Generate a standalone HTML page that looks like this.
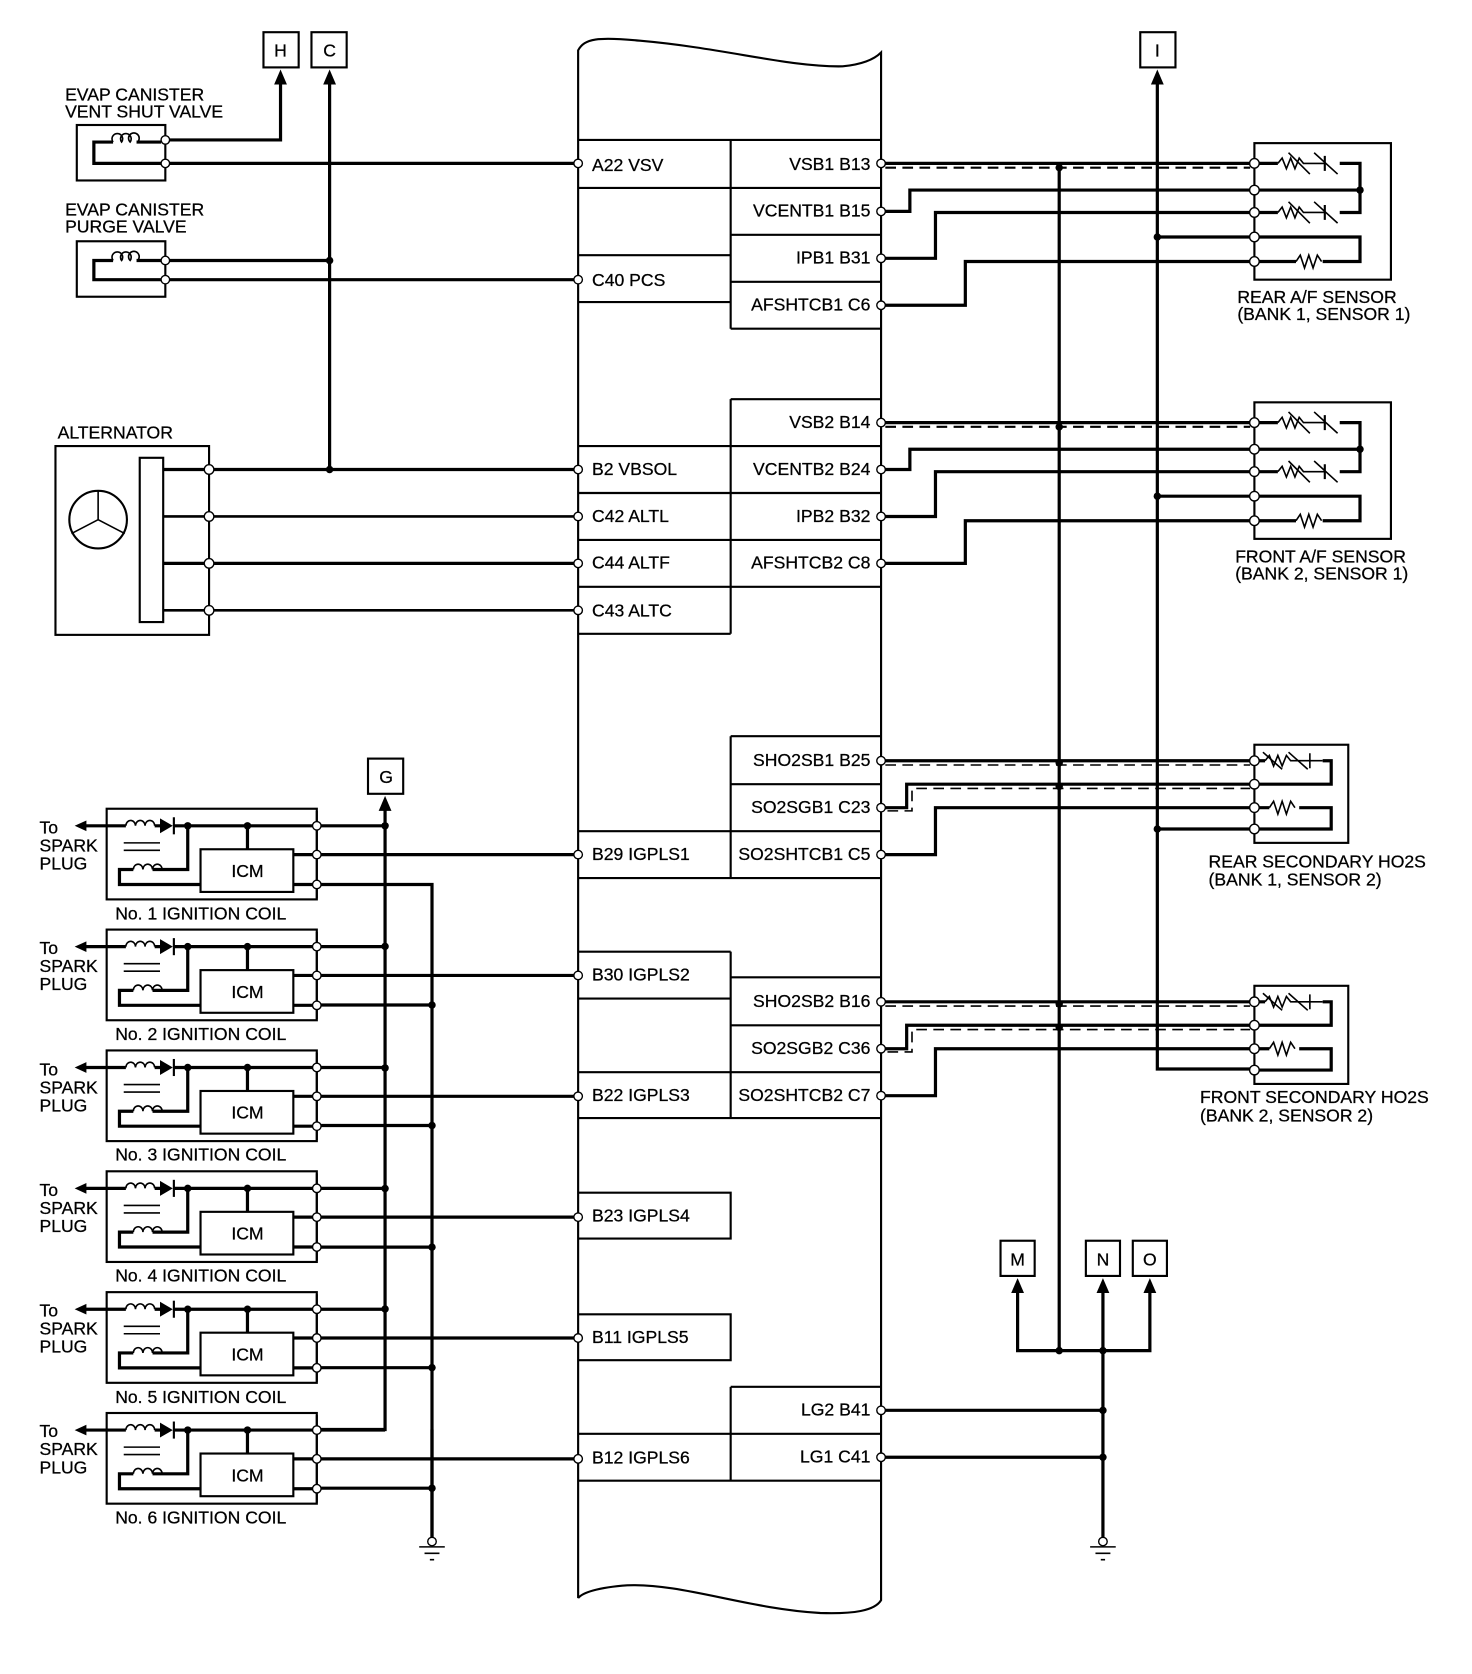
<!DOCTYPE html>
<html><head><meta charset="utf-8"><style>
html,body{margin:0;padding:0;background:#fff}
svg{display:block}
text{font-family:"Liberation Sans",sans-serif;font-size:16.5px;fill:#000;stroke:#000;stroke-width:0.25}
.w{stroke:#000;stroke-width:3;fill:none}
.t{stroke:#000;stroke-width:2;fill:none}
.n{stroke:#000;stroke-width:1.5;fill:none}
.d{stroke:#000;stroke-width:2;fill:none;stroke-dasharray:10,6}
.o{fill:#fff;stroke:#000;stroke-width:1.3}
.k{fill:#000}
</style></head><body>
<svg width="1472" height="1674" viewBox="0 0 1380 1569" xmlns="http://www.w3.org/2000/svg">
<defs>
<g id="coil">
<rect x="100" y="758" width="197" height="85" class="t"/>
<polygon points="70,774 81,769 81,779" class="k"/>
<path d="M80,774 H118 M145,774 H150 M163,774 H297" class="w"/>
<path d="M118,774 a4.5,5 0 1,1 9,0 a4.5,5 0 1,1 9,0 a4.5,5 0 1,1 9,0" class="n"/>
<polygon points="150,767 150,781 162,774" class="k"/>
<path d="M163,766 V782" class="t"/>
<circle cx="176" cy="774" r="3.5" class="k"/><circle cx="232" cy="774" r="3.5" class="k"/>
<path d="M116,790 H150 M116,797 H150" class="n"/>
<path d="M125,815 a4.5,5 0 1,1 9,0 a4.5,5 0 1,1 9,0 a4.5,5 0 1,1 9,0" class="n"/>
<path d="M143,815 H176 V774 M125,815 H112 V829 H188 M232,774 V796 M275,801 H297 M275,829 H297" class="w"/>
<rect x="188" y="796" width="87" height="40" class="t"/>
<text x="232" y="822" text-anchor="middle" font-size="17">ICM</text>
<path d="M297,760 V842" class="t"/>
<circle cx="297" cy="774" r="4" class="o"/><circle cx="297" cy="801" r="4" class="o"/><circle cx="297" cy="829" r="4" class="o"/>
<path d="M301,774 H361" class="w"/>
<path d="M301,801 H538" class="w"/>
<circle cx="542" cy="801" r="4" class="o"/>
</g>
<g id="sens">
<rect x="1176" y="134" width="128" height="128" class="t"/>
<path d="M1180,153 H1198 M1256,153 H1275 V199 H1256 M1198,199 H1180 M1180,178 H1275 M1180,222 H1275 V245 H1240 M1215,245 H1180" class="w"/>
<path d="M1198,153 l4,-5 l4,10 l4,-10 l4,10 l4,-10 l4,5 H1242 M1198,199 l4,-5 l4,10 l4,-10 l4,10 l4,-10 l4,5 H1242 M1215,245 l4,-6 l4,12 l4,-12 l4,12 l4,-12 l4,6" class="n"/>
<path d="M1208,143 l20,20 M1232,143 l22,20 M1208,189 l20,20 M1232,189 l22,20" class="n"/>
<path d="M1242,146 V160 M1242,192 V206" class="t"/>
<circle cx="1275" cy="178" r="3.5" class="k"/>
<circle cx="1176" cy="153" r="4.5" class="o"/><circle cx="1176" cy="178" r="4.5" class="o"/><circle cx="1176" cy="199" r="4.5" class="o"/><circle cx="1176" cy="222" r="4.5" class="o"/><circle cx="1176" cy="245" r="4.5" class="o"/>
</g>
<g id="sec">
<rect x="1176" y="698" width="88" height="92" class="t"/>
<path d="M1180,713 H1186 M1240,713 H1248 V735 H1180 M1180,757 H1190 M1218,757 H1248 V777 H1180" class="w"/>
<path d="M1186,713 l4,-5 l4,10 l4,-10 l4,10 l4,-10 l4,5 H1240 M1190,757 l4,-6 l4,12 l4,-12 l4,12 l4,-12 l4,6" class="n"/>
<path d="M1184,705 l18,16 M1208,705 l18,16 M1228,706 V720" class="n"/>
<circle cx="1176" cy="713" r="4.5" class="o"/><circle cx="1176" cy="735" r="4.5" class="o"/><circle cx="1176" cy="757" r="4.5" class="o"/><circle cx="1176" cy="777" r="4.5" class="o"/>
</g>
</defs>

<path d="M542,1498 V47 C548,36 560,34 600,38 C680,45 740,63 790,62 C810,60 820,55 826,49 V1500 C820,1510 800,1513 769,1512 C700,1508 640,1484 588,1486 C560,1488 546,1493 542,1498" class="t"/>
<path d="M542,131 H826 M542,176 H826 M685,131 V308 M685,220 H826 M542,239 H685 M542,283 H685 M685,264 H826 M685,308 H826
M685,374 H826 M685,374 V594 M542,418 H826 M542,462 H826 M542,506 H826 M542,550 H826 M542,594 H685
M685,690 H826 M685,690 V823 M685,735 H826 M542,779 H826 M542,823 H826
M542,892 H685 M685,892 V1048 M542,936 H685 M685,916 H826 M685,961 H826 M542,1005 H826 M542,1048 H826
M542,1118 H685 V1161 H542 M542,1232 H685 V1275 H542
M685,1300 H826 M685,1300 V1388 M542,1344 H826 M542,1388 H826" class="t"/>
<text x="555" y="160">A22 VSV</text>
<text x="555" y="268">C40 PCS</text>
<text x="555" y="445">B2 VBSOL</text>
<text x="555" y="489">C42 ALTL</text>
<text x="555" y="533">C44 ALTF</text>
<text x="555" y="578">C43 ALTC</text>
<text x="555" y="806">B29 IGPLS1</text>
<text x="555" y="919">B30 IGPLS2</text>
<text x="555" y="1032">B22 IGPLS3</text>
<text x="555" y="1145">B23 IGPLS4</text>
<text x="555" y="1259">B11 IGPLS5</text>
<text x="555" y="1372">B12 IGPLS6</text>
<g text-anchor="end">
<text x="816" y="159">VSB1 B13</text>
<text x="816" y="203">VCENTB1 B15</text>
<text x="816" y="247">IPB1 B31</text>
<text x="816" y="291">AFSHTCB1 C6</text>
<text x="816" y="401">VSB2 B14</text>
<text x="816" y="445">VCENTB2 B24</text>
<text x="816" y="489">IPB2 B32</text>
<text x="816" y="533">AFSHTCB2 C8</text>
<text x="816" y="718">SHO2SB1 B25</text>
<text x="816" y="762">SO2SGB1 C23</text>
<text x="816" y="806">SO2SHTCB1 C5</text>
<text x="816" y="944">SHO2SB2 B16</text>
<text x="816" y="988">SO2SGB2 C36</text>
<text x="816" y="1032">SO2SHTCB2 C7</text>
<text x="816" y="1327">LG2 B41</text>
<text x="816" y="1371">LG1 C41</text>
</g>

<rect x="247" y="30" width="33" height="33" class="t"/><text x="263" y="53" text-anchor="middle">H</text>
<rect x="292" y="30" width="33" height="33" class="t"/><text x="309" y="53" text-anchor="middle">C</text>
<polygon points="263,65 257,79 269,79" class="k"/><polygon points="309,65 303,79 315,79" class="k"/>
<text x="61" y="94">EVAP CANISTER</text><text x="61" y="110">VENT SHUT VALVE</text>
<rect x="72" y="117" width="83" height="52" class="t"/>
<path d="M106,133 H88 V153 H151 M128,133 H151" class="w"/>
<path d="M106,133 a5,5 0 1,1 8,0 a5,5 0 1,1 8,0 a5,5 0 1,1 7,0" class="n"/>
<path d="M159,131 H263 V78 M159,153 H538" class="w"/>
<circle cx="155" cy="131" r="4" class="o"/><circle cx="155" cy="153" r="4" class="o"/>
<text x="61" y="202">EVAP CANISTER</text><text x="61" y="218">PURGE VALVE</text>
<rect x="72" y="226" width="83" height="52" class="t"/>
<path d="M106,244 H88 V262 H151 M128,244 H151" class="w"/>
<path d="M106,244 a5,5 0 1,1 8,0 a5,5 0 1,1 8,0 a5,5 0 1,1 7,0" class="n"/>
<path d="M159,244 H309 M159,262 H538 M309,78 V440" class="w"/>
<circle cx="155" cy="244" r="4" class="o"/><circle cx="155" cy="262" r="4" class="o"/>
<circle cx="309" cy="244" r="3.5" class="k"/><circle cx="309" cy="440" r="3.5" class="k"/>
<circle cx="542" cy="153" r="4" class="o"/><circle cx="542" cy="262" r="4" class="o"/>
<text x="54" y="411">ALTERNATOR</text>
<rect x="52" y="418" width="144" height="177" class="t"/>
<rect x="131" y="429" width="22" height="154" class="t"/>
<circle cx="92" cy="487" r="27" class="t"/>
<path d="M92,460 V487 L67,500 M92,487 L117,500" class="n"/>
<path d="M153,440 H538 M153,528 H538" class="w"/>
<path d="M153,484 H538 M153,572 H538" class="t" style="stroke-width:2.5"/>
<circle cx="196" cy="440" r="4.5" class="o"/><circle cx="196" cy="484" r="4.5" class="o"/><circle cx="196" cy="528" r="4.5" class="o"/><circle cx="196" cy="572" r="4.5" class="o"/>
<circle cx="542" cy="440" r="4" class="o"/><circle cx="542" cy="484" r="4" class="o"/><circle cx="542" cy="528" r="4" class="o"/><circle cx="542" cy="572" r="4" class="o"/>

<rect x="345" y="711" width="33" height="33" class="t"/><text x="362" y="734" text-anchor="middle">G</text>
<polygon points="361,746 355,760 367,760" class="k"/>
<path d="M361,759 V1340 H301 M405,1340 V1445" class="w"/>
<path d="M301,829 H405 V1445" class="w"/>
<circle cx="405" cy="1445" r="4" class="o"/>
<path d="M393,1450 H417 M398,1456 H412 M403,1462 H407" class="n"/>

<use href="#coil"/>
<use href="#coil" transform="translate(0,113.3)"/>
<use href="#coil" transform="translate(0,226.6)"/>
<use href="#coil" transform="translate(0,339.9)"/>
<use href="#coil" transform="translate(0,453.2)"/>
<use href="#coil" transform="translate(0,566.5)"/>
<path d="M301,942 H405 M301,1055 H405 M301,1169 H405 M301,1282 H405 M301,1395 H405" class="w"/>
<g class="k">
<circle cx="361" cy="774" r="3.5"/><circle cx="361" cy="887" r="3.5"/><circle cx="361" cy="1001" r="3.5"/><circle cx="361" cy="1114" r="3.5"/><circle cx="361" cy="1227" r="3.5"/>
<circle cx="405" cy="942" r="3.5"/><circle cx="405" cy="1055" r="3.5"/><circle cx="405" cy="1169" r="3.5"/><circle cx="405" cy="1282" r="3.5"/><circle cx="405" cy="1395" r="3.5"/>
</g>
<g>
<text x="37" y="781">To</text><text x="37" y="798">SPARK</text><text x="37" y="815">PLUG</text>
<text x="108" y="862">No. 1 IGNITION COIL</text>
<text x="37" y="894">To</text><text x="37" y="911">SPARK</text><text x="37" y="928">PLUG</text>
<text x="108" y="975">No. 2 IGNITION COIL</text>
<text x="37" y="1008">To</text><text x="37" y="1025">SPARK</text><text x="37" y="1042">PLUG</text>
<text x="108" y="1088">No. 3 IGNITION COIL</text>
<text x="37" y="1121">To</text><text x="37" y="1138">SPARK</text><text x="37" y="1155">PLUG</text>
<text x="108" y="1201">No. 4 IGNITION COIL</text>
<text x="37" y="1234">To</text><text x="37" y="1251">SPARK</text><text x="37" y="1268">PLUG</text>
<text x="108" y="1315">No. 5 IGNITION COIL</text>
<text x="37" y="1347">To</text><text x="37" y="1364">SPARK</text><text x="37" y="1381">PLUG</text>
<text x="108" y="1428">No. 6 IGNITION COIL</text>
</g>

<rect x="1069" y="30" width="33" height="33" class="t"/><text x="1085" y="53" text-anchor="middle">I</text>
<polygon points="1085,65 1079,79 1091,79" class="k"/>
<path d="M1085,78 V1002 H1172" class="w"/>
<path d="M993,157 V1266" class="w"/>

<use href="#sens"/>
<path d="M830,153 H1172 M830,198 H853 V178 H1172 M830,242 H877 V199 H1172 M1085,222 H1172 M830,286 H905 V245 H1172" class="w"/>
<path d="M830,157 H1172" class="d"/>
<circle cx="993" cy="157" r="3.5" class="k"/><circle cx="1085" cy="222" r="3.5" class="k"/>
<text x="1160" y="284">REAR A/F SENSOR</text><text x="1160" y="300">(BANK 1, SENSOR 1)</text>
<use href="#sens" transform="translate(0,243)"/>
<path d="M830,396 H1172 M830,440 H853 V421 H1172 M830,484 H877 V442 H1172 M1085,465 H1172 M830,528 H905 V488 H1172" class="w"/>
<path d="M830,400 H1172" class="d"/>
<circle cx="993" cy="400" r="3.5" class="k"/><circle cx="1085" cy="465" r="3.5" class="k"/>
<text x="1158" y="527">FRONT A/F SENSOR</text><text x="1158" y="543">(BANK 2, SENSOR 1)</text>
<use href="#sec"/>
<path d="M830,713 H1172 M830,757 H850 V735 H1172 M830,801 H877 V757 H1172 M1085,777 H1172" class="w"/>
<path d="M830,717 H1172 M832,760 H855 V739 H1172" class="d" style="stroke-width:1.5"/>
<circle cx="993" cy="715" r="3.5" class="k"/><circle cx="993" cy="737" r="3.5" class="k"/><circle cx="1085" cy="777" r="3.5" class="k"/>
<text x="1133" y="813">REAR SECONDARY HO2S</text><text x="1133" y="830">(BANK 1, SENSOR 2)</text>
<use href="#sec" transform="translate(0,226)"/>
<path d="M830,939 H1172 M830,983 H850 V961 H1172 M830,1027 H877 V983 H1172" class="w"/>
<path d="M830,943 H1172 M832,986 H855 V965 H1172" class="d" style="stroke-width:1.5"/>
<circle cx="993" cy="941" r="3.5" class="k"/><circle cx="993" cy="963" r="3.5" class="k"/>
<text x="1125" y="1034">FRONT SECONDARY HO2S</text><text x="1125" y="1051">(BANK 2, SENSOR 2)</text>
<g>
<circle cx="826" cy="153" r="4" class="o"/><circle cx="826" cy="198" r="4" class="o"/><circle cx="826" cy="242" r="4" class="o"/><circle cx="826" cy="286" r="4" class="o"/>
<circle cx="826" cy="396" r="4" class="o"/><circle cx="826" cy="440" r="4" class="o"/><circle cx="826" cy="484" r="4" class="o"/><circle cx="826" cy="528" r="4" class="o"/>
<circle cx="826" cy="713" r="4" class="o"/><circle cx="826" cy="757" r="4" class="o"/><circle cx="826" cy="801" r="4" class="o"/>
<circle cx="826" cy="939" r="4" class="o"/><circle cx="826" cy="983" r="4" class="o"/><circle cx="826" cy="1027" r="4" class="o"/>
<circle cx="826" cy="1322" r="4" class="o"/><circle cx="826" cy="1366" r="4" class="o"/>
</g>

<rect x="938" y="1163" width="32" height="33" class="t"/><text x="954" y="1186" text-anchor="middle">M</text>
<rect x="1018" y="1163" width="32" height="33" class="t"/><text x="1034" y="1186" text-anchor="middle">N</text>
<rect x="1062" y="1163" width="32" height="33" class="t"/><text x="1078" y="1186" text-anchor="middle">O</text>
<polygon points="954,1198 948,1212 960,1212" class="k"/><polygon points="1034,1198 1028,1212 1040,1212" class="k"/><polygon points="1078,1198 1072,1212 1084,1212" class="k"/>
<path d="M954,1211 V1266 H1078 V1211 M1034,1211 V1441 M830,1322 H1034 M830,1366 H1034" class="w"/>
<g class="k"><circle cx="993" cy="1266" r="3.5"/><circle cx="1034" cy="1266" r="3.5"/><circle cx="1034" cy="1322" r="3.5"/><circle cx="1034" cy="1366" r="3.5"/></g>
<circle cx="1034" cy="1445" r="4" class="o"/>
<path d="M1022,1450 H1046 M1027,1456 H1041 M1032,1462 H1036" class="n"/>
</svg>
</body></html>
